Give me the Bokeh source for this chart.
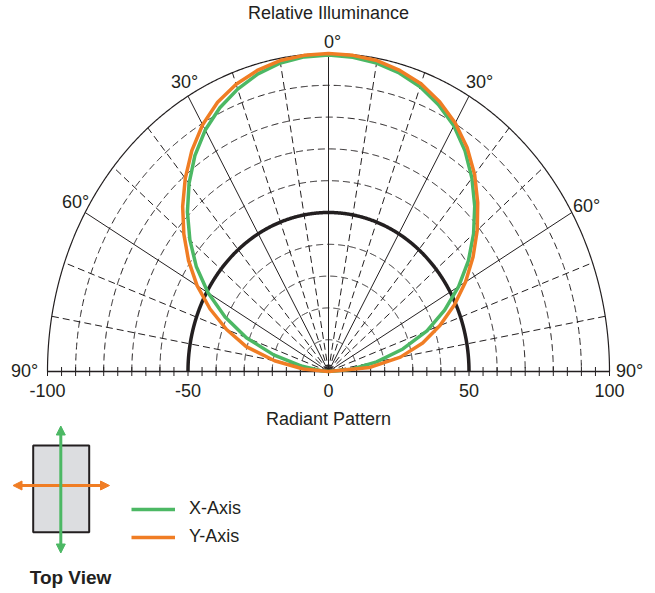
import numpy as np
from bokeh.plotting import figure
from bokeh.models import Range1d, Arrow, NormalHead, Legend, LegendItem
from bokeh.core.properties import value
from bokeh.embed import file_html
from bokeh.resources import INLINE

# ---------------- data ----------------
angles = [-90, -85, -80, -75, -70, -65, -60, -55, -50, -45, -40, -35, -30, -25, -20, -15, -10, -5,
          0, 5, 10, 15, 20, 25, 30, 35, 40, 45, 50, 55, 60, 65, 70, 75, 80, 85, 90]
x_axis_r = [0, 2.6, 9.5, 20.2, 31.1, 40.6, 49.5, 57.4, 64.4, 71.0, 77.2, 82.9, 87.7, 91.5, 94.5, 96.9, 98.5, 99.3,
            99.5, 99.2, 98.5, 97.2, 95.3, 92.6, 89.2, 84.7, 79.4, 73.6, 67.4, 60.8, 53.5, 45.6, 37.3, 27.4, 17.4, 8.3, 0]
y_axis_r = [0, 9.0, 19.5, 30.3, 38.6, 46.5, 54.0, 60.8, 67.2, 73.4, 79.3, 84.8, 89.6, 93.4, 96.1, 98.0, 99.3, 99.8,
            100, 99.8, 99.3, 98.0, 96.3, 93.6, 90.2, 86.0, 80.9, 75.1, 69.1, 62.8, 56.3, 49.4, 42.2, 34.7, 26.0, 14.8, 0]
reference_r = 50
ring_levels = [10, 20, 30, 40, 50, 60, 70, 80, 90]
outer_r = 100
solid_spokes = [-60, -30, 0, 30, 60]
dashed_spokes = [-80, -70, -50, -40, -20, -10, 10, 20, 40, 50, 70, 80]
angle_labels = ["90°", "60°", "30°", "0°", "30°", "60°", "90°"]
tick_values = [-100, -50, 0, 50, 100]
tick_labels = ["-100", "-50", "0", "50", "100"]
minor_ticks = list(range(-100, 101, 5))
series_names = ["X-Axis", "Y-Axis"]
series_colors = ["#4cb864", "#f07d24"]
title_text = "Relative Illuminance"
xlabel_text = "Radiant Pattern"
icon_text = "Top View"

# ---------------- geometry (page px -> data) ----------------
W, H = 655, 593
CX, CY = 328, 371      # page px of polar origin
KX, KY = 2.81, 3.18    # px per unit


def dx(px):
    return (px - CX) / KX


def dy(py):
    return (CY - py) / KY


INK = "#231f20"
FONT = value("Liberation Sans")

p = figure(width=W, height=H,
           x_range=Range1d(dx(0), dx(W)), y_range=Range1d(dy(H), dy(0)),
           output_backend="svg", toolbar_location=None,
           x_axis_location=None, y_axis_location=None,
           min_border=0, outline_line_color=None,
           background_fill_color="white", border_fill_color="white")
p.xgrid.visible = False
p.ygrid.visible = False

# rings
th = np.radians(np.linspace(-90, 90, 721))
ring_xs = [list(r * np.sin(th)) for r in ring_levels]
ring_ys = [list(r * np.cos(th)) for r in ring_levels]
p.multi_line(ring_xs, ring_ys, line_color=INK, line_width=1, line_dash="7 4")
p.line(outer_r * np.sin(th), outer_r * np.cos(th), line_color=INK, line_width=1.2)

# spokes
sd = np.radians(dashed_spokes)
p.segment(x0=0, y0=0, x1=outer_r * np.sin(sd), y1=outer_r * np.cos(sd),
          line_color=INK, line_width=1, line_dash="7 4")
ss = np.radians(solid_spokes)
p.segment(x0=0, y0=0, x1=outer_r * np.sin(ss), y1=outer_r * np.cos(ss),
          line_color=INK, line_width=1)

# baseline and ticks
p.line([-outer_r, outer_r], [0, 0], line_color=INK, line_width=1.3)
tk = 4.5 / KY
p.segment(x0=minor_ticks, y0=[-tk] * len(minor_ticks), x1=minor_ticks, y1=[tk] * len(minor_ticks),
          line_color=INK, line_width=1)

# reference circle
p.line(reference_r * np.sin(th), reference_r * np.cos(th), line_color=INK, line_width=3.5)

# series
a = np.radians(angles)
gx = np.array(x_axis_r) * np.sin(a)
gy = np.array(x_axis_r) * np.cos(a)
ox = np.array(y_axis_r) * np.sin(a)
oy = np.array(y_axis_r) * np.cos(a)
g_r = p.line(gx, gy, line_color=series_colors[0], line_width=3.5, line_join="round")
o_r = p.line(ox, oy, line_color=series_colors[1], line_width=3.5, line_join="round")

# angle labels
lab_x = [dx(24), dx(75), dx(184), dx(332), dx(479), dx(586), dx(629)]
lab_y = [dy(370), dy(201), dy(81), dy(41), dy(81), dy(205), dy(370)]
p.text(x=lab_x, y=lab_y, text=angle_labels, text_font=FONT, text_font_size=value("18px"),
       text_align="center", text_baseline="middle", text_color=INK)

# tick labels
p.text(x=tick_values, y=[dy(390)] * len(tick_values), text=tick_labels, text_font=FONT,
       text_font_size=value("18px"), text_align="center", text_baseline="middle", text_color=INK)

# title / axis label
p.text(x=[0, 0], y=[dy(12), dy(418)], text=[title_text, xlabel_text], text_font=FONT,
       text_font_size=value("18px"), text_align="center", text_baseline="middle", text_color=INK)

# top view icon
p.quad(left=dx(32.7), right=dx(88.7), top=dy(445), bottom=dy(531.7),
       fill_color="#dcdde0", line_color=INK, line_width=2)
p.add_layout(Arrow(start=NormalHead(size=9, fill_color=series_colors[1], line_color=series_colors[1]),
                   end=NormalHead(size=9, fill_color=series_colors[1], line_color=series_colors[1]),
                   x_start=dx(12.5), y_start=dy(485), x_end=dx(109), y_end=dy(485),
                   line_color=series_colors[1], line_width=3))
p.add_layout(Arrow(start=NormalHead(size=9, fill_color=series_colors[0], line_color=series_colors[0]),
                   end=NormalHead(size=9, fill_color=series_colors[0], line_color=series_colors[0]),
                   x_start=dx(60.3), y_start=dy(552.5), x_end=dx(60.3), y_end=dy(425.5),
                   line_color=series_colors[0], line_width=3))
p.text(x=[dx(70)], y=[dy(577)], text=[icon_text], text_font=FONT, text_font_size=value("19px"),
       text_font_style="bold", text_align="center", text_baseline="middle", text_color=INK)

# legend
legend = Legend(items=[LegendItem(label=series_names[0], renderers=[g_r]),
                       LegendItem(label=series_names[1], renderers=[o_r])],
                location=(131, 46), orientation="vertical", padding=0, margin=0, spacing=7,
                glyph_width=44, glyph_height=20, label_height=20, label_standoff=14,
                label_text_font="Liberation Sans", label_text_font_size="18px",
                label_text_color=INK, border_line_color=None, background_fill_alpha=0)
p.add_layout(legend)

open("out.html", "w").write(file_html(p, INLINE))
